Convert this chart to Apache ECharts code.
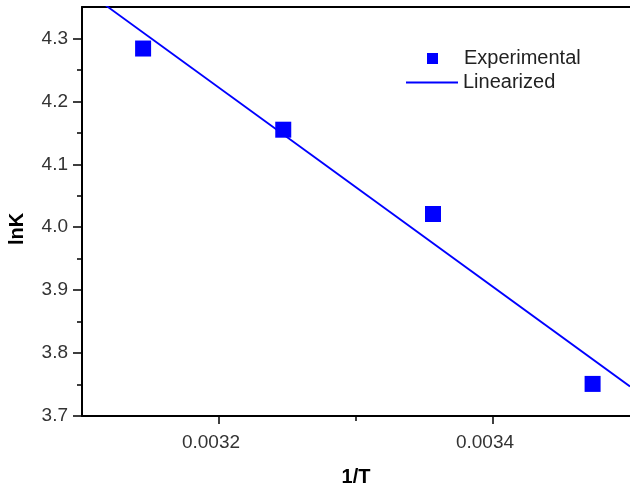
<!DOCTYPE html>
<html>
<head>
<meta charset="utf-8">
<script src="https://cdn.jsdelivr.net/npm/echarts@6/dist/echarts.min.js"></script>
<style>html,body{margin:0;padding:0;background:#fff}#c{width:630px;height:487px}</style>
</head>
<body>
<div id="c"></div>
<script>
// Data
const invT = [0.0031446, 0.0032469, 0.0033562, 0.0034727];
const lnK = [4.284, 4.155, 4.021, 3.751];
const fitX = [0.0031, 0.0035];
const fitY = [4.380, 3.747];
const xMajorTicks = [0.0032, 0.0034];
const xMinorTicks = [0.0033];
const yMajorTicks = [3.7, 3.8, 3.9, 4.0, 4.1, 4.2, 4.3];
const yMinorTicks = [3.75, 3.85, 3.95, 4.05, 4.15, 4.25];
const seriesNames = ['Experimental', 'Linearized'];

const FONT = 'Liberation Sans, Arial, sans-serif';
const BLUE = '#0000ff';
const chart = echarts.init(document.getElementById('c'), null, {renderer: 'canvas'});
const lineStyleAxis = {color: '#000', width: 2};

chart.setOption({
  animation: false,
  backgroundColor: '#fff',
  grid: {left: 82, right: 0, top: 7, bottom: 71, containLabel: false, outerBoundsMode: 'none'},
  legend: [
    {
      orient: 'vertical', left: 427, top: 48.5, padding: 0, itemWidth: 11, itemHeight: 11,
      textStyle: {fontFamily: FONT, fontSize: 20, color: '#222', lineHeight: 17, padding: [0, 0, 0, 21]},
      data: [{name: seriesNames[0], icon: 'rect', itemStyle: {color: BLUE, opacity: 1}}]
    },
    {
      orient: 'vertical', left: 406, top: 72.5, padding: 0, itemWidth: 52, itemHeight: 2,
      textStyle: {fontFamily: FONT, fontSize: 20, color: '#222', lineHeight: 17},
      data: [{name: seriesNames[1], icon: 'rect', itemStyle: {color: BLUE}}]
    }
  ],
  xAxis: [
    {
      type: 'value', position: 'bottom', min: 0.0031, max: 0.0035,
      name: '1/T', nameLocation: 'middle', nameGap: 51,
      nameTextStyle: {fontFamily: FONT, fontSize: 20, fontWeight: 'bold', color: '#000'},
      axisLine: {show: true, onZero: false, lineStyle: lineStyleAxis},
      axisTick: {show: true, customValues: xMajorTicks, length: 8, lineStyle: {color: '#000', width: 1.5}},
      axisLabel: {customValues: xMajorTicks, margin: 17, padding: [0, 16, 0, 0],
        fontFamily: FONT, fontSize: 19, color: '#333', formatter: v => v.toFixed(4)},
      splitLine: {show: false}
    },
    {
      type: 'value', position: 'bottom', min: 0.0031, max: 0.0035,
      axisLine: {show: false, onZero: false},
      axisTick: {show: true, customValues: xMinorTicks, length: 5, lineStyle: {color: '#000', width: 1.5}},
      axisLabel: {show: false}, splitLine: {show: false}
    },
    {
      type: 'value', position: 'top', min: 0.0031, max: 0.0035,
      axisLine: {show: true, onZero: false, lineStyle: lineStyleAxis},
      axisTick: {show: false}, axisLabel: {show: false}, splitLine: {show: false}
    }
  ],
  yAxis: [
    {
      type: 'value', position: 'left', min: 3.7, max: 4.35,
      name: 'lnK', nameLocation: 'middle', nameGap: 55,
      nameTextStyle: {fontFamily: FONT, fontSize: 20, fontWeight: 'bold', color: '#000', padding: [0, 35, 0, 0]},
      axisLine: {show: true, onZero: false, lineStyle: lineStyleAxis},
      axisTick: {show: true, customValues: yMajorTicks, length: 9, lineStyle: {color: '#000', width: 1.5}},
      axisLabel: {customValues: yMajorTicks, margin: 14, fontFamily: FONT, fontSize: 19, color: '#333',
        formatter: v => v.toFixed(1)},
      splitLine: {show: false}
    },
    {
      type: 'value', position: 'left', min: 3.7, max: 4.35,
      axisLine: {show: false, onZero: false},
      axisTick: {show: true, customValues: yMinorTicks, length: 5, lineStyle: {color: '#000', width: 1.5}},
      axisLabel: {show: false}, splitLine: {show: false}
    }
  ],
  series: [
    {
      name: seriesNames[0], type: 'scatter', xAxisIndex: 0, yAxisIndex: 0,
      symbol: 'rect', symbolSize: 16, itemStyle: {color: BLUE, opacity: 1},
      data: invT.map((x, i) => [x, lnK[i]]), z: 3
    },
    {
      name: seriesNames[1], type: 'line', xAxisIndex: 0, yAxisIndex: 0,
      showSymbol: false, symbol: 'none', clip: true,
      lineStyle: {color: BLUE, width: 1.8}, itemStyle: {color: BLUE},
      data: fitX.map((x, i) => [x, fitY[i]]), z: 2
    }
  ]
});
</script>
</body>
</html>
